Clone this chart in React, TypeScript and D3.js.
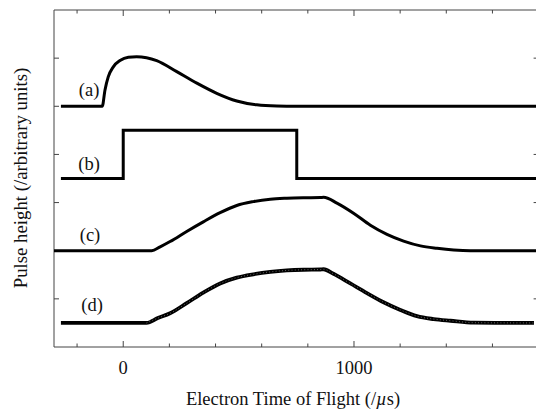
import React from "react";
import * as d3 from "d3";

// ---- data (time in µs, pulse height in arbitrary offset units) ----
const xTicksMinor = [-200, 0, 200, 400, 600, 800, 1000, 1200, 1400, 1600];
const xTickLabels = [0, 1000];
const yTicks = [1, 2, 3, 4, 5, 6];

const aTime = [-270, -91, -79, -65, -43, -14, 22, 58, 101, 145, 232, 319, 405, 492, 579, 666, 750, 1790];
const aValue = [5.0, 5.0, 5.34, 5.61, 5.82, 5.95, 6.02, 6.03, 6.01, 5.95, 5.72, 5.48, 5.27, 5.11, 5.03, 5.005, 5.0, 5.0];

const bTime = [-270, 0, 0, 752, 752, 1790];
const bValue = [3.5, 3.5, 4.5, 4.5, 3.5, 3.5];

const cTime = [-300, 123, 160, 203, 275, 347, 420, 492, 564, 637, 709, 782, 854, 868, 926, 998, 1071, 1143, 1215, 1288, 1360, 1432, 1504, 1800];
const cValue = [2.0, 2.0, 2.08, 2.19, 2.4, 2.6, 2.79, 2.94, 3.02, 3.07, 3.09, 3.1, 3.105, 3.11, 2.99, 2.78, 2.53, 2.34, 2.2, 2.1, 2.05, 2.015, 2.0, 2.0];

const dTime = [-270, 101, 150, 203, 275, 347, 420, 492, 564, 637, 709, 782, 854, 868, 911, 984, 1056, 1128, 1201, 1273, 1345, 1418, 1519, 1780];
const dValue = [0.5, 0.5, 0.6, 0.7, 0.91, 1.13, 1.32, 1.44, 1.51, 1.56, 1.59, 1.605, 1.61, 1.615, 1.52, 1.32, 1.12, 0.93, 0.77, 0.64, 0.58, 0.545, 0.505, 0.5];

const labels = [
  { text: "(a)", t: -148, v: 5.21 },
  { text: "(b)", t: -148, v: 3.67 },
  { text: "(c)", t: -144, v: 2.2 },
  { text: "(d)", t: -135, v: 0.75 },
];

const W = 536;
const H = 413;
const left = 54;
const top = 10;
const bottom = 347;
const rightEdge = 538.6;

export default function App() {
  const x = d3.scaleLinear().domain([-300, 1800]).range([left, rightEdge]);
  const y = d3.scaleLinear().domain([0, 7]).range([bottom, top]);

  const zip = (ts: number[], vs: number[]) => ts.map((t, i) => [t, vs[i]] as [number, number]);
  const smooth = d3
    .line<[number, number]>()
    .x((d) => x(d[0]))
    .y((d) => y(d[1]))
    .curve(d3.curveMonotoneX);
  const straight = d3
    .line<[number, number]>()
    .x((d) => x(d[0]))
    .y((d) => y(d[1]));

  const dPts = zip(dTime, dValue);
  const dDotted = dPts.filter((p) => p[0] >= 101);

  const axisColor = "#444";
  const font = "'Liberation Serif', 'Times New Roman', serif";

  return (
    <svg width={W} height={H} style={{ position: "absolute", left: 0, top: 0, background: "#fff" }}>
      <rect x={0} y={0} width={W} height={H} fill="#fff" />
      {/* frame */}
      <line x1={left} x2={W} y1={top} y2={top} stroke={axisColor} strokeWidth={1} />
      <line x1={left} x2={W} y1={bottom} y2={bottom} stroke={axisColor} strokeWidth={1} />
      <line x1={left} x2={left} y1={top} y2={bottom} stroke={axisColor} strokeWidth={1} />
      <line x1={rightEdge} x2={rightEdge} y1={top} y2={bottom} stroke={axisColor} strokeWidth={1} />
      {xTicksMinor.map((t) => {
        const major = xTickLabels.includes(t);
        const len = major ? 6 : 3.5;
        return (
          <g key={"xt" + t}>
            <line x1={x(t)} x2={x(t)} y1={bottom} y2={bottom - len} stroke={axisColor} strokeWidth={1} />
            <line x1={x(t)} x2={x(t)} y1={top} y2={top + len} stroke={axisColor} strokeWidth={1} />
          </g>
        );
      })}
      {yTicks.map((v) => (
        <g key={"yt" + v}>
          <line x1={left} x2={left + 5} y1={y(v)} y2={y(v)} stroke={axisColor} strokeWidth={1} />
          <line x1={rightEdge} x2={rightEdge - 5} y1={y(v)} y2={y(v)} stroke={axisColor} strokeWidth={1} />
        </g>
      ))}
      {xTickLabels.map((t) => (
        <text key={"xl" + t} x={x(t)} y={374} textAnchor="middle" fontFamily={font} fontSize={18.5} fill="#111">
          {t}
        </text>
      ))}
      <text x={293} y={405} textAnchor="middle" fontFamily={font} fontSize={18.5} fill="#111">
        Electron Time of Flight (/<tspan fontStyle="italic">µ</tspan>s)
      </text>
      <text
        transform={`translate(27,178) rotate(-90)`}
        textAnchor="middle"
        fontFamily={font}
        fontSize={18.8}
        fill="#111"
      >
        Pulse height (/arbitrary units)
      </text>

      {/* curves */}
      <g fill="none" stroke="#000" strokeLinejoin="round">
        <path d={smooth(zip(aTime, aValue)) || ""} strokeWidth={3} />
        <path d={straight(zip(bTime, bValue)) || ""} strokeWidth={3} strokeLinejoin="miter" />
        <path d={smooth(zip(cTime, cValue)) || ""} strokeWidth={3} />
        <path d={smooth(dPts) || ""} strokeWidth={3.8} />
        <path d={smooth(dDotted) || ""} strokeWidth={0.8} stroke="#fff" strokeDasharray="0.8 2.4" opacity={0.6} />
      </g>

      {labels.map((l) => (
        <text key={l.text} x={x(l.t)} y={y(l.v)} textAnchor="middle" fontFamily={font} fontSize={18.5} fill="#111">
          {l.text}
        </text>
      ))}
    </svg>
  );
}
